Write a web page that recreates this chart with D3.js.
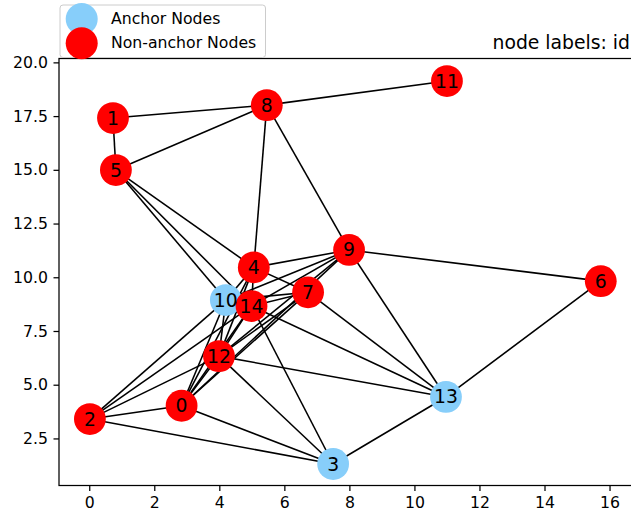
<!DOCTYPE html>
<html>
<head>
<meta charset="utf-8">
<script src="https://cdn.jsdelivr.net/npm/d3@7"></script>
<style>
  html, body { margin: 0; padding: 0; background: #fff; }
  svg { display: block; }
  text { font-family: "DejaVu Sans", sans-serif; }
</style>
</head>
<body>
<svg id="chart" width="631" height="514"></svg>
<script>
// ---- data ----
const nodeIds = [0, 1, 2, 3, 4, 5, 6, 7, 8, 9, 10, 11, 12, 13, 14];
const nodeX = [2.84, 0.73, 0.02, 7.50, 5.06, 0.82, 15.73, 6.73, 5.46, 7.99, 4.20, 11.00, 3.99, 10.97, 4.99];
const nodeY = [4.02, 17.41, 3.40, 1.31, 10.46, 14.99, 9.82, 9.30, 18.01, 11.27, 8.94, 19.13, 6.33, 4.43, 8.66];
const anchorNodes = [3, 10, 13];
const edges = [
  [1, 8], [1, 5], [5, 8], [8, 11], [8, 4], [8, 9], [9, 6], [6, 13], [13, 3], [9, 13],
  [5, 4], [5, 10], [5, 14],
  [2, 0], [2, 3], [2, 12], [2, 10], [2, 14],
  [0, 3], [0, 12], [0, 10], [0, 4], [0, 14], [0, 7], [0, 9],
  [12, 13], [12, 3], [12, 10], [12, 4], [12, 14], [12, 7], [12, 9],
  [14, 3], [14, 13], [14, 7], [14, 9],
  [4, 9], [4, 7], [4, 10], [4, 14],
  [7, 13], [7, 10], [9, 10]
];
const xLimits = [-0.93, 16.66];
const yLimits = [0.31, 20.18];
const xTicks = [0, 2, 4, 6, 8, 10, 12, 14, 16];
const yTicks = [2.5, 5.0, 7.5, 10.0, 12.5, 15.0, 17.5, 20.0];
const legendLabels = ["Anchor Nodes", "Non-anchor Nodes"];
const legendColors = ["#87cefa", "#ff0000"];
const titleText = "node labels: id";

// ---- layout ----
const svg = d3.select("#chart");
const plot = { left: 59, right: 631, top: 58.5, bottom: 485.5 };
const x = d3.scaleLinear().domain(xLimits).range([plot.left, plot.right]);
const y = d3.scaleLinear().domain(yLimits).range([plot.bottom, plot.top]);
const nodeR = 15.9;
const fontTick = 15.7, fontLabel = 18.8;

const anchorSet = new Set(anchorNodes);
const nodes = nodeIds.map((id, i) => ({ id, x: nodeX[i], y: nodeY[i], anchor: anchorSet.has(id) }));
const byId = new Map(nodes.map(n => [n.id, n]));

// axes spines (left, bottom, top; right edge is at the image border)
const axisG = svg.append("g");
const xAxis = d3.axisBottom(x).tickValues(xTicks).tickFormat(d3.format("d"))
  .tickSizeInner(5.5).tickSizeOuter(0).tickPadding(5.5);
const yAxis = d3.axisLeft(y).tickValues(yTicks).tickFormat(d3.format(".1f"))
  .tickSizeInner(5.5).tickSizeOuter(0).tickPadding(5.5);

const gx = axisG.append("g").attr("transform", `translate(0,${plot.bottom})`).call(xAxis);
const gy = axisG.append("g").attr("transform", `translate(${plot.left},0)`).call(yAxis);
[gx, gy].forEach(g => {
  g.select(".domain").remove();
  g.selectAll(".tick line").attr("stroke", "#000").attr("stroke-width", 1.25);
  g.selectAll(".tick text").attr("fill", "#000").attr("font-size", fontTick)
    .attr("font-family", "DejaVu Sans, sans-serif");
});

axisG.append("rect")
  .attr("x", plot.left).attr("y", plot.top)
  .attr("width", plot.right - plot.left + 2).attr("height", plot.bottom - plot.top)
  .attr("fill", "none").attr("stroke", "#000").attr("stroke-width", 1.25);

// edges
svg.append("g").selectAll("line").data(edges).join("line")
  .attr("x1", d => x(byId.get(d[0]).x)).attr("y1", d => y(byId.get(d[0]).y))
  .attr("x2", d => x(byId.get(d[1]).x)).attr("y2", d => y(byId.get(d[1]).y))
  .attr("stroke", "#000").attr("stroke-width", 1.57);

// nodes: anchors first, then non-anchors on top
const nodeOrder = nodes.filter(n => n.anchor).concat(nodes.filter(n => !n.anchor));
svg.append("g").selectAll("circle").data(nodeOrder).join("circle")
  .attr("cx", d => x(d.x)).attr("cy", d => y(d.y)).attr("r", nodeR)
  .attr("fill", d => d.anchor ? legendColors[0] : legendColors[1]);

svg.append("g").selectAll("text").data(nodes).join("text")
  .attr("x", d => x(d.x)).attr("y", d => y(d.y))
  .attr("text-anchor", "middle").attr("dominant-baseline", "central")
  .attr("font-size", fontLabel).attr("fill", "#000")
  .text(d => d.id);

// title
svg.append("text").attr("x", plot.right - 1).attr("y", 49)
  .attr("text-anchor", "end").attr("font-size", fontLabel).attr("fill", "#000")
  .text(titleText);

// legend
const lg = svg.append("g");
lg.append("rect").attr("x", 60).attr("y", 5).attr("width", 205.5).attr("height", 52.5)
  .attr("rx", 3).attr("fill", "#fff").attr("fill-opacity", 0.8)
  .attr("stroke", "#cccccc").attr("stroke-width", 1);
const legendRows = [19, 43.3];
lg.selectAll("circle").data(legendLabels).join("circle")
  .attr("cx", 81.7).attr("cy", (d, i) => legendRows[i]).attr("r", 16)
  .attr("fill", (d, i) => legendColors[i]);
lg.selectAll("text").data(legendLabels).join("text")
  .attr("x", 111).attr("y", (d, i) => legendRows[i] + 4.6)
  .attr("font-size", fontTick).attr("fill", "#000")
  .text(d => d);
</script>
</body>
</html>
